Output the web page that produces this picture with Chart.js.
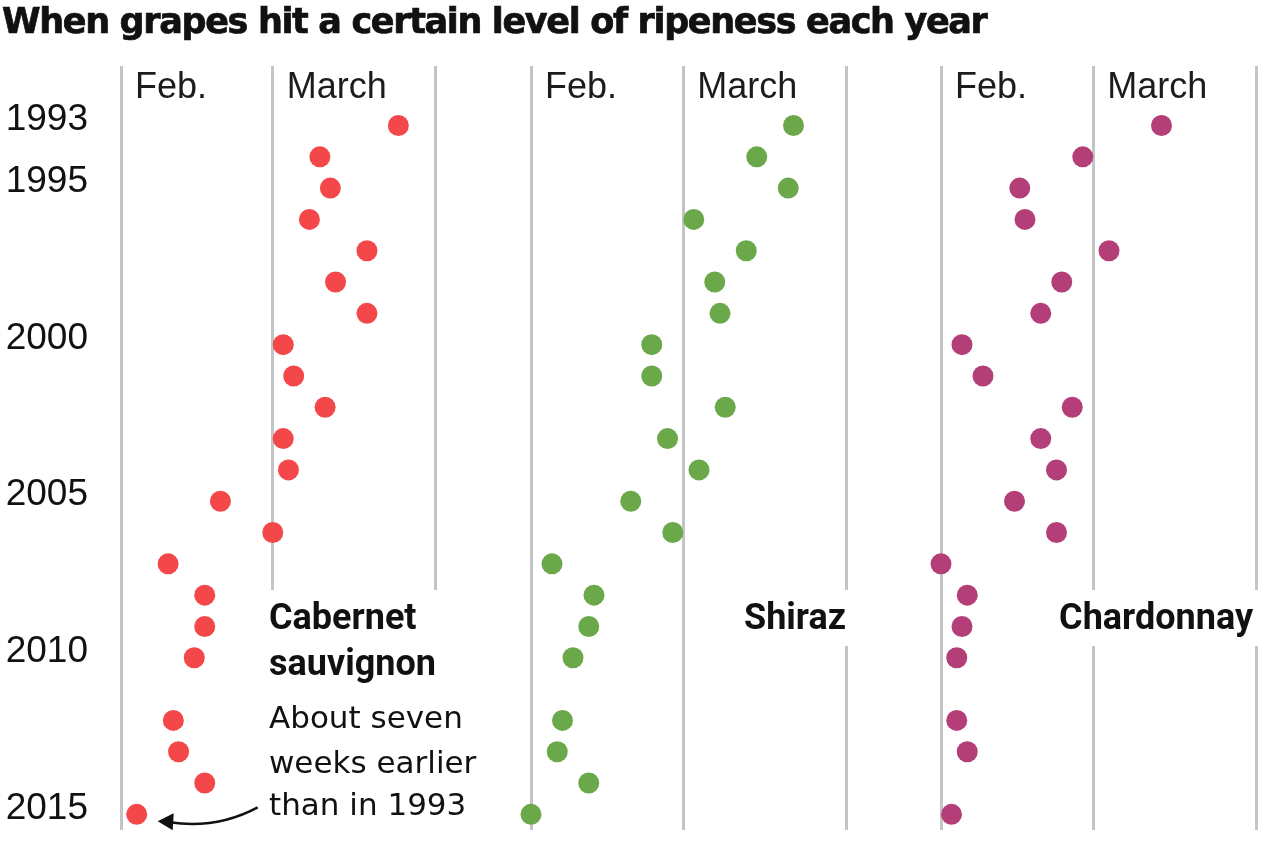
<!DOCTYPE html>
<html>
<head>
<meta charset="utf-8">
<script src="https://cdn.jsdelivr.net/npm/chart.js@4.4.1/dist/chart.umd.min.js"></script>
<style>
  html, body { margin: 0; padding: 0; background: #fff; }
  body { width: 1280px; height: 865px; position: relative; overflow: hidden; }
  #title {
    position: absolute; left: 2px; top: 1px; z-index: 2;
    font: bold 35px "DejaVu Sans"; line-height: 40px;
    color: #111; white-space: nowrap; letter-spacing: -1.35px;
    -webkit-text-stroke: 0.7px #111;
  }
  canvas { position: absolute; top: 0; }
</style>
</head>
<body>
<div id="title">When grapes hit a certain level of ripeness each year</div>
<canvas id="cabernet" width="500" height="865" style="left:0px"></canvas>
<canvas id="shiraz" width="370" height="865" style="left:500px"></canvas>
<canvas id="chardonnay" width="370" height="865" style="left:910px"></canvas>
<script>
// ripeness date as day of year (Feb 1 = 32, Mar 1 = 61, Apr 1 = 92); no 2011 values
const years = [1993, 1994, 1995, 1996, 1997, 1998, 1999, 2000, 2001, 2002, 2003,
               2004, 2005, 2006, 2007, 2008, 2009, 2010, 2012, 2013, 2014, 2015];
const cabernet = [85, 70, 72, 68, 79, 73, 79, 63, 65, 71, 63,
                  64, 51, 61, 41, 48, 48, 46, 42, 43, 48, 35];
const shiraz = [82, 75, 81, 63, 73, 67, 68, 55, 55, 69, 58,
                64, 51, 59, 36, 44, 43, 40, 38, 37, 43, 32];
const chardonnay = [74, 59, 47, 48, 64, 55, 51, 36, 40, 57, 51,
                    54, 46, 54, 32, 37, 36, 35, 35, 37, 30, 34];

const monthStarts = [32, 61, 92];
const monthNames = ["Feb.", "March"];
const yearTicks = [1993, 1995, 2000, 2005, 2010, 2015];

const INK = "#111";

const panelDecor = {
    id: "panelDecor",

    beforeDatasetsDraw(chart, args, opts) {
        const ctx = chart.ctx;
        const xs = chart.scales.x;
        ctx.save();

        // month names sit just right of their gridline
        ctx.fillStyle = "#1c1c1c";
        ctx.font = '36px "Liberation Sans"';
        ctx.textAlign = "left";
        ctx.textBaseline = "alphabetic";
        monthNames.forEach((m, i) => {
            ctx.fillText(m, xs.getPixelForValue(monthStarts[i]) + 14, chart.chartArea.top + 32);
        });

        // knock the gridlines out behind the panel labels
        ctx.fillStyle = "#fff";
        (opts.boxes || []).forEach(b => ctx.fillRect(b[0], b[1], b[2] - b[0], b[3] - b[1]));
        ctx.restore();
    },

    afterDatasetsDraw(chart, args, opts) {
        const ctx = chart.ctx;
        ctx.save();
        ctx.fillStyle = INK;
        ctx.textBaseline = "alphabetic";

        (opts.labels || []).forEach(l => {
            ctx.font = l.bold ? '700 36px Roboto' : '31px "DejaVu Sans"';
            ctx.textAlign = l.align;
            ctx.fillText(l.text, l.x, l.y);
        });

        if (opts.arrow) {
            const pts = chart.getDatasetMeta(0).data;
            const p = pts[pts.length - 1];
            const tipX = p.x + 21, tipY = p.y + 7;

            ctx.strokeStyle = INK;
            ctx.lineWidth = 2.5;
            ctx.beginPath();
            ctx.moveTo(p.x + 121, p.y - 7);
            ctx.quadraticCurveTo(p.x + 80, p.y + 15, tipX + 12, tipY + 1);
            ctx.stroke();

            ctx.beginPath();
            ctx.moveTo(tipX, tipY);
            ctx.lineTo(tipX + 16, tipY - 8);
            ctx.lineTo(tipX + 15, tipY + 9);
            ctx.closePath();
            ctx.fill();
        }
        ctx.restore();
    }
};

function makePanel(id, values, color, showYears, padding, decor) {

    return new Chart(document.getElementById(id), {

        type: "scatter",

        data: {
            datasets: [{
                data: years.map((yr, i) => ({ x: values[i], y: yr })),
                backgroundColor: color,
                pointBackgroundColor: color,
                pointBorderWidth: 0,
                pointRadius: 10.5,
                pointHoverRadius: 10.5,
                clip: false
            }]
        },

        options: {
            responsive: false,
            animation: false,
            events: [],
            layout: { padding: padding },

            plugins: {
                legend: { display: false },
                tooltip: { enabled: false },
                panelDecor: decor
            },

            scales: {
                x: {
                    type: "linear",
                    min: monthStarts[0],
                    max: monthStarts[monthStarts.length - 1],
                    afterBuildTicks: axis => {
                        axis.ticks = monthStarts.map(v => ({ value: v }));
                    },
                    afterFit: axis => {
                        axis.height = 0;
                        axis.paddingLeft = 0;
                        axis.paddingRight = 0;
                    },
                    ticks: { display: false },
                    grid: { color: "#c4c4c4", lineWidth: 3, drawTicks: false },
                    border: { display: false }
                },
                y: {
                    type: "linear",
                    reverse: true,
                    min: 1991.1,
                    max: 2015.5,
                    display: showYears,
                    afterBuildTicks: axis => {
                        axis.ticks = yearTicks.map(v => ({ value: v }));
                    },
                    afterFit: axis => {
                        axis.width = showYears ? 121 : 0;
                        axis.paddingTop = 0;
                        axis.paddingBottom = 0;
                    },
                    ticks: {
                        padding: 33,
                        labelOffset: -6,
                        color: INK,
                        font: { family: "Liberation Sans", size: 37 },
                        callback: v => String(v)
                    },
                    grid: { display: false, drawTicks: false },
                    border: { display: false }
                }
            }
        },

        plugins: [panelDecor]
    });
}

makePanel("cabernet", cabernet, "#f4474a", true,
    { left: 0, right: 65, top: 66, bottom: 35 },
    {
        boxes: [[266, 590, 495, 845]],
        labels: [
            { text: "Cabernet", x: 269, y: 629, align: "left", bold: true },
            { text: "sauvignon", x: 269, y: 675, align: "left", bold: true },
            { text: "About seven", x: 269, y: 728, align: "left" },
            { text: "weeks earlier", x: 269, y: 773, align: "left" },
            { text: "than in 1993", x: 269, y: 815, align: "left" }
        ],
        arrow: true
    });

makePanel("shiraz", shiraz, "#6aa84a", false,
    { left: 31, right: 24, top: 66, bottom: 35 },
    {
        boxes: [[238, 590, 352, 646]],
        labels: [{ text: "Shiraz", x: 346, y: 629, align: "right", bold: true }]
    });

makePanel("chardonnay", chardonnay, "#b33e78", false,
    { left: 31, right: 24, top: 66, bottom: 35 },
    {
        boxes: [[140, 590, 352, 646]],
        labels: [{ text: "Chardonnay", x: 343, y: 629, align: "right", bold: true }]
    });
</script>
</body>
</html>
